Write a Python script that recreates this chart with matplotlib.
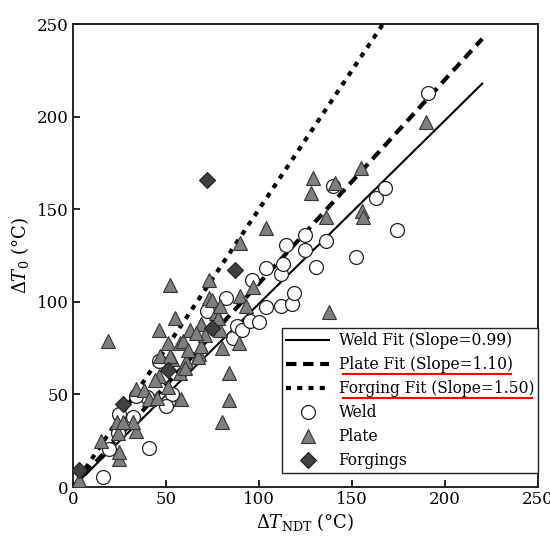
import numpy as np
import matplotlib
matplotlib.use('agg')
import matplotlib.pyplot as plt
from matplotlib.lines import Line2D

plt.rcParams['font.family'] = ['DejaVu Serif']
plt.rcParams['mathtext.fontset'] = 'dejavuserif'

# -------------------- data --------------------
weld_ndt = [16, 41, 19.5, 24, 25, 32, 40, 34, 46, 51, 53, 72, 82, 86, 88, 91, 95, 100,
            96, 104, 112, 118, 119, 104, 112, 113, 114.5, 125, 125, 136, 130.5, 152,
            139.6, 162.7, 168, 174, 191, 50]
weld_t0 = [5.5, 21, 20.5, 29, 39.5, 38, 48.5, 49, 68, 46, 50, 95, 102, 80.5, 87, 85, 89.5, 89,
           112, 97, 98, 99, 105, 118.5, 115, 120.5, 130.6, 128, 136, 133, 119, 124,
           162.5, 156, 161.6, 139, 213, 44]

plate_ndt = [3, 15, 25, 25, 24, 34, 32, 23.5, 27, 19, 34, 38, 41, 45, 51, 58, 46, 57.5,
             53, 61, 60, 68, 67, 47, 52, 46, 51, 57.5, 59, 69, 80, 89, 55, 63, 69, 71,
             79, 77, 78, 52, 73, 73, 75, 90, 93, 97, 79, 90, 104, 128, 129, 136, 141,
             155, 155.5, 156, 190, 137.6, 84, 84, 80, 62, 44, 66]
plate_t0 = [4, 25, 15, 19, 29, 30, 35, 35, 35, 79, 53, 52.5, 47.5, 48, 54, 47.5, 60, 61.5,
            69, 68, 64, 72, 70, 71, 70.5, 85, 78, 78, 79, 76, 75, 78, 91, 85, 88, 82,
            85, 94, 91, 109, 112, 102, 101, 103, 98, 108, 98, 132, 140, 159, 167, 146, 164,
            172, 149, 146, 197, 94.5, 61.5, 47, 35, 74, 58, 83]

forg_ndt = [3, 27, 51, 75, 87, 72]
forg_t0 = [9, 45, 63, 86, 117, 166]

fit_x = [0, 220]
weld_slope = 0.99
plate_slope = 1.10
forg_slope = 1.50

# -------------------- plot --------------------
fig = plt.figure(figsize=(5.5, 5.41), dpi=100)
ax = fig.add_axes([0.1327, 0.0998, 0.8455, 0.8558])

fx = np.array(fit_x, dtype=float)
ax.plot(fx, weld_slope * fx, '-', color='black', lw=1.5,
        label='Weld Fit (Slope=0.99)', zorder=3)
ax.plot(fx, plate_slope * fx, color='black', lw=3, dashes=(2.5, 1.6),
        label='Plate Fit (Slope=1.10)', zorder=3)
ax.plot(fx, forg_slope * fx, color='black', lw=3, dashes=(1.2, 1.5),
        label='Forging Fit (Slope=1.50)', zorder=3)

ax.plot(weld_ndt, weld_t0, 'o', ms=10, mfc='white', mec='#222222', mew=0.9,
        ls='none', label='Weld', zorder=4)
ax.plot(plate_ndt, plate_t0, '^', ms=10.5, mfc='#7f7f7f', mec='#333333', mew=0.8,
        ls='none', label='Plate', zorder=4)
ax.plot(forg_ndt, forg_t0, 'D', ms=8, mfc='#404040', mec='#222222', mew=0.8,
        ls='none', label='Forgings', zorder=4)

ax.set_xlim(0, 250)
ax.set_ylim(0, 250)
ax.set_xticks(range(0, 251, 50))
ax.set_yticks(range(0, 251, 50))
ax.tick_params(direction='in', length=5, width=1.2, labelsize=12,
               top=False, right=False)
ax.tick_params(axis='x', pad=3)
ax.tick_params(axis='y', pad=3)
for s in ax.spines.values():
    s.set_linewidth(1.4)
    s.set_color('#222222')

ax.set_xlabel(r'$\mathit{\Delta}T_{\mathrm{NDT}}$ (°C)', fontsize=13, labelpad=2)
ax.set_ylabel(r'$\mathit{\Delta}T_0$ (°C)', fontsize=13, labelpad=4)

leg = ax.legend(loc='lower right', bbox_to_anchor=(1.0, 0.03), fontsize=11.2,
                frameon=True, fancybox=False, edgecolor='#222222', framealpha=1,
                handlelength=2.8, borderaxespad=0, borderpad=0.25,
                labelspacing=0.45, handletextpad=0.6)
leg.get_frame().set_linewidth(1.0)
leg.set_zorder(5)

# red underline under the plate and forging fit entries
fig.canvas.draw()
for t in leg.get_texts()[1:3]:
    bb = t.get_window_extent()
    y = bb.y0 - 1
    fig.add_artist(Line2D([bb.x0 + 4, bb.x1 - 2], [y, y], color='red', lw=1.5,
                          transform=None, zorder=10))

fig.savefig('out.png', dpi=100)
